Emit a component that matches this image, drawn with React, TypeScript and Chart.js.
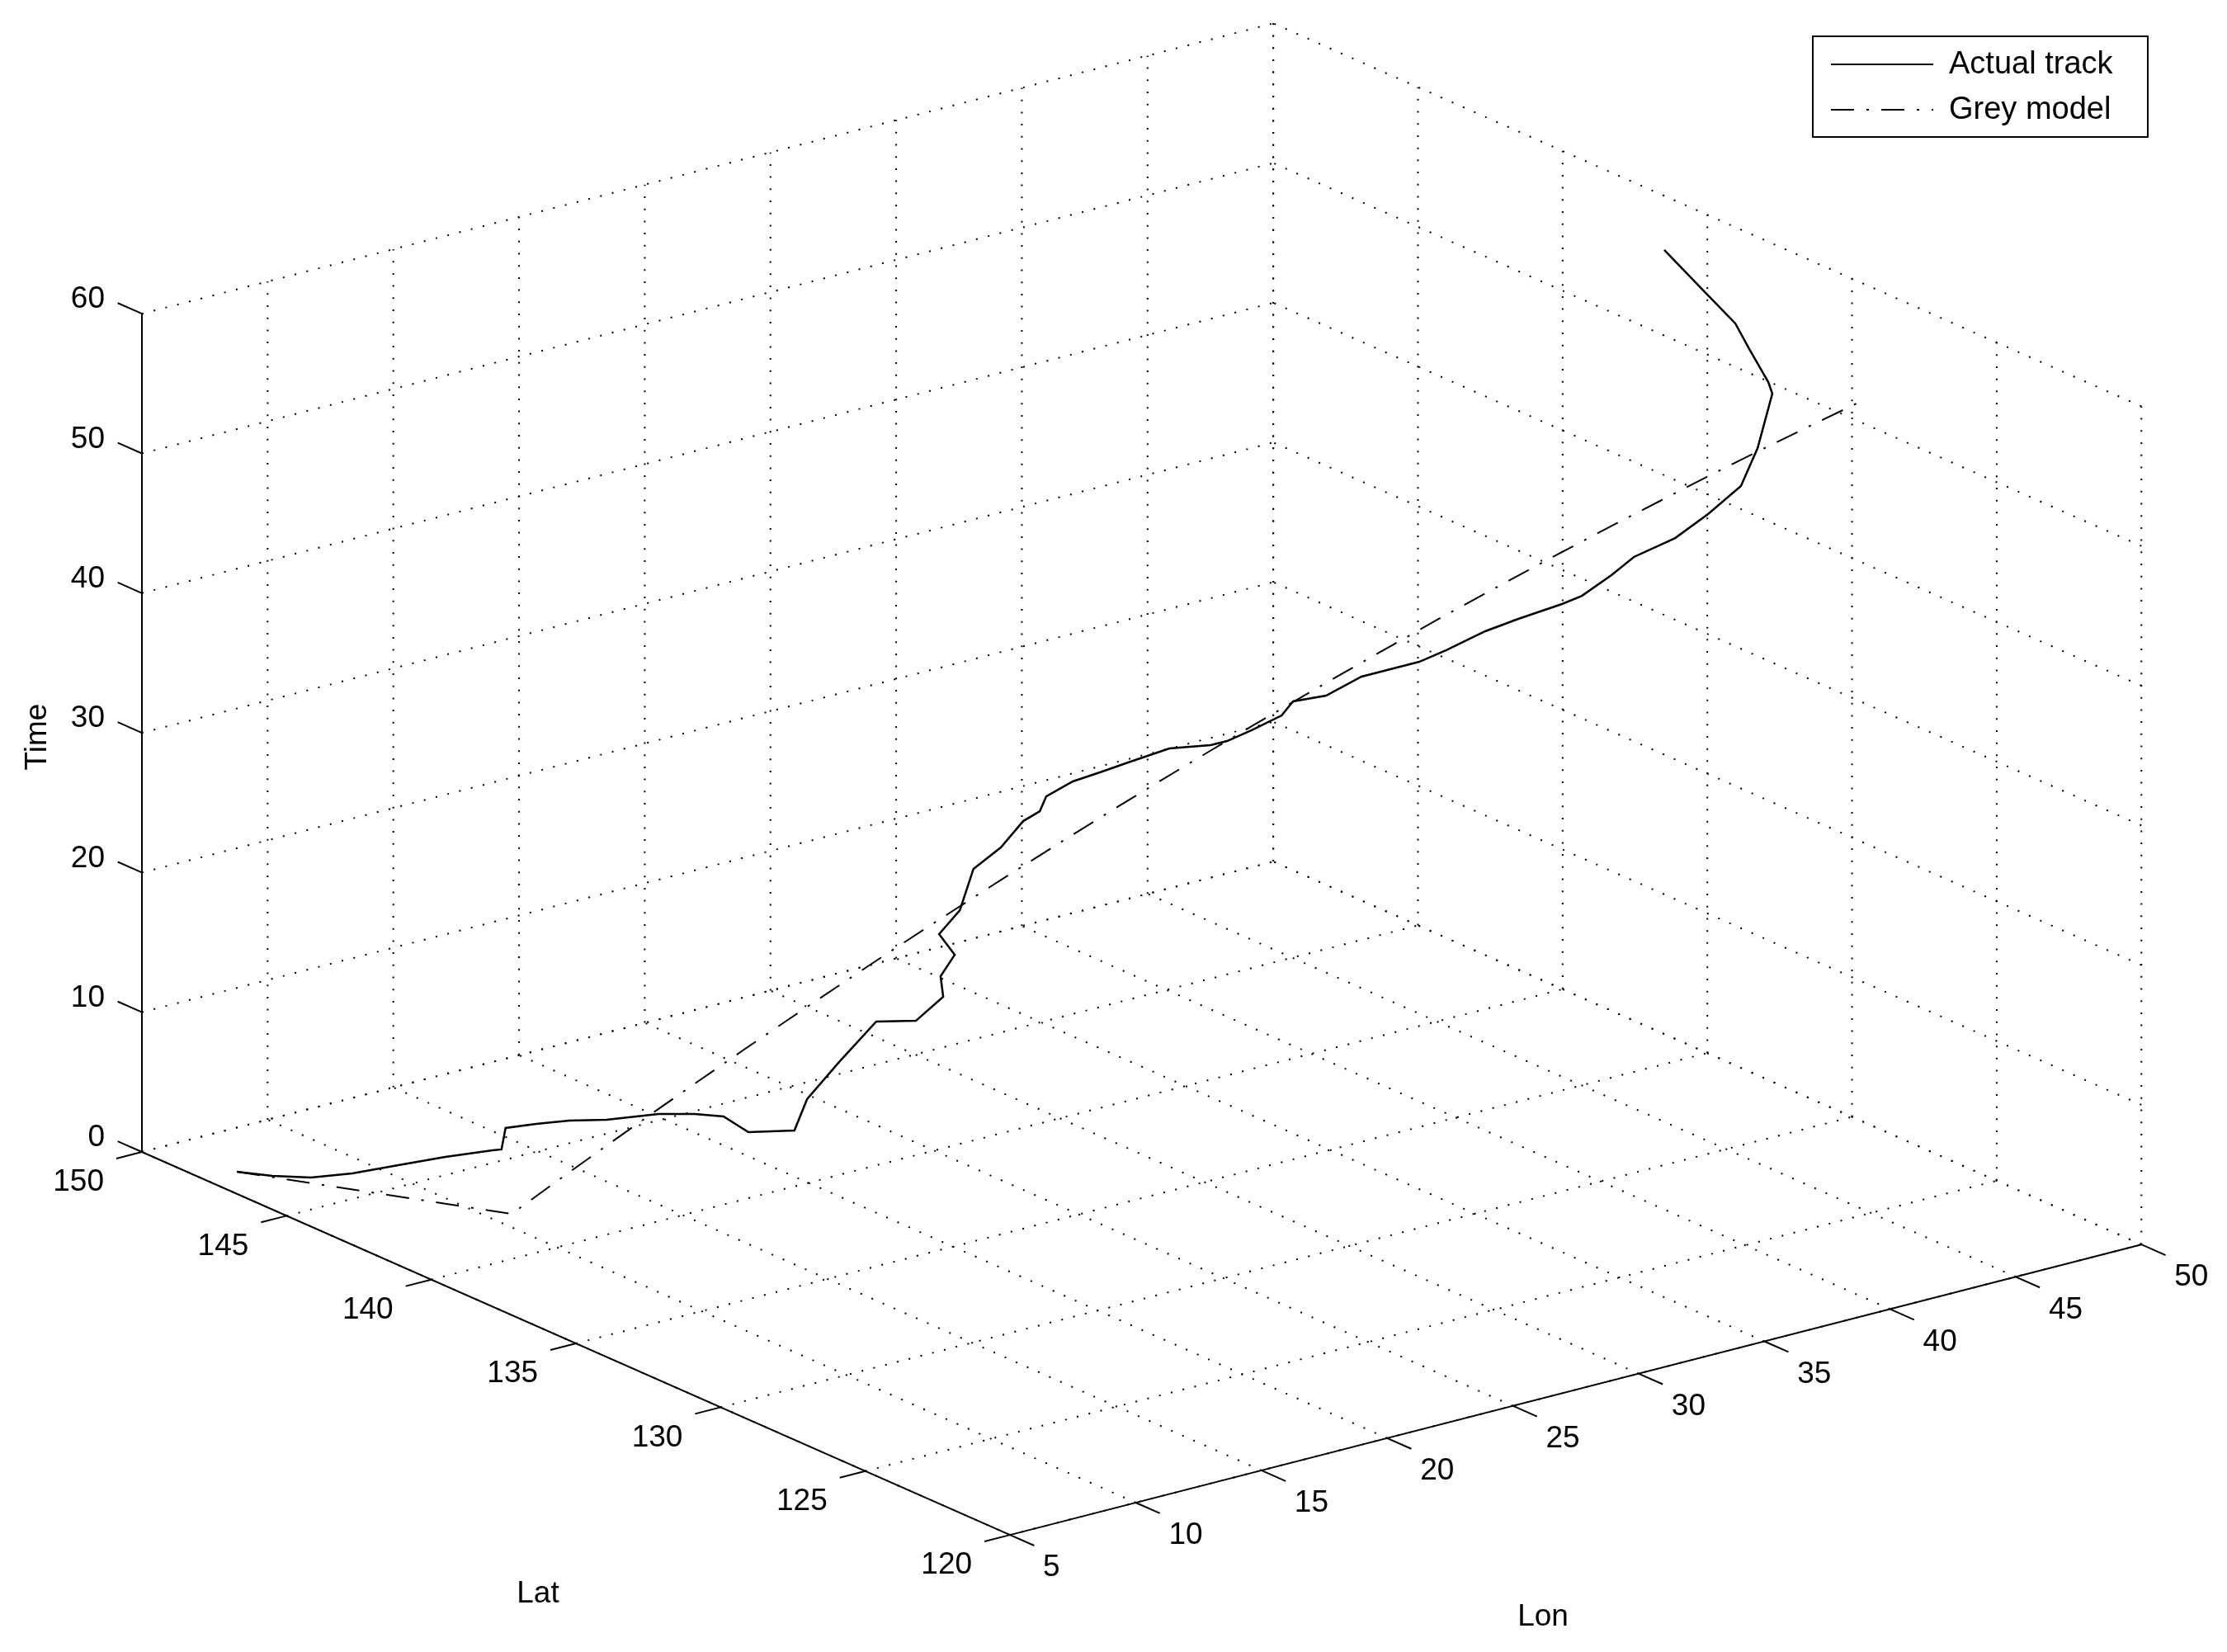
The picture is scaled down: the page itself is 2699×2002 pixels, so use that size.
import React, { useEffect, useRef } from "react";
import { Chart, registerables } from "chart.js";

Chart.register(...registerables);

// ---------------- data ----------------
const LAT_TICKS = [120, 125, 130, 135, 140, 145, 150];
const LON_TICKS = [5, 10, 15, 20, 25, 30, 35, 40, 45, 50];
const TIME_TICKS = [0, 10, 20, 30, 40, 50, 60];

const SERIES_ACTUAL = "Actual track";
const SERIES_GREY = "Grey model";
const TITLE_LAT = "Lat";
const TITLE_LON = "Lon";
const TITLE_TIME = "Time";

const TIME_ACTUAL = [
  0, 1, 2, 3, 4, 5, 6, 7, 8, 9, 10, 11, 12, 13, 14, 15, 16, 17, 18, 19,
  20, 21, 22, 23, 24, 25, 26, 27, 28, 29, 30, 31, 32, 33, 34, 35, 36, 37, 38, 39,
  40, 41, 42, 43, 44, 45, 46, 47, 48, 49, 50, 51, 52, 53, 54, 55, 56, 57, 58, 59,
];
const LAT_ACTUAL = [
  147.81, 146.47, 145.2, 144.19, 143.32, 142.44, 141.47, 140.71, 141.03, 140.15,
  139.2, 138.08, 137.01, 135.86, 134.68, 132.89, 131.7, 132.4, 133.14, 133.98,
  132.82, 132.97, 133.33, 133.52, 134.05, 134.28, 135.46, 135.48, 135.81, 135.4,
  135.36, 135.07, 134.48, 133.92, 133.4, 132.35, 131.65, 131.18, 130.84, 130.7,
  129.87, 129.67, 128.98, 128.52, 128.27, 127.77, 127.26, 126.72, 126.68, 126.6,
  126.32, 126.4, 126.68, 127.65, 129.47, 129.4, 130.59, 131.34, 132.54, 134.5,
];
const LON_ACTUAL = [
  6.26, 6.12, 6.2, 6.68, 7.51, 8.37, 9.13, 8.61, 9.14, 9.35,
  9.57, 9.76, 10.6, 10.71, 10.5, 9.43, 9.89, 11.2, 13.33, 15.77,
  16.01, 17.27, 17.58, 18.36, 18.35, 19.44, 21.34, 22.45, 23.72, 23.91,
  24.12, 24.84, 25.24, 25.72, 26.76, 27.19, 27.04, 27.48, 28.28, 28.57,
  28.93, 30.11, 31.61, 32.16, 33.42, 34.16, 35.31, 35.48, 36.61, 37.41,
  38.73, 40.13, 41.76, 43.54, 46.22, 45.98, 46.59, 46.9, 47.1, 47.71,
];

const TIME_GREY = [
  0, 1, 3, 5, 7, 9, 11, 13, 15, 17, 19, 21, 23, 25, 27, 29,
  31, 33, 35, 37, 39, 41, 43, 45, 47, 49, 51, 53, 55, 57, 59,
];
const LAT_GREY = [
  147.81, 141.54, 141.23, 140.9, 140.55, 140.18, 139.79, 139.38, 138.95, 138.5,
  138.03, 137.54, 137.03, 136.5, 135.95, 135.38, 134.79, 134.18, 133.55, 132.9,
  132.23, 131.55, 130.84, 130.11, 129.36, 128.59, 127.8, 127.0, 126.17, 125.32, 124.45,
];
const LON_GREY = [
  6.26, 9.97, 11.46, 12.92, 14.36, 15.78, 17.17, 18.55, 19.9, 21.22,
  22.53, 23.81, 25.07, 26.3, 27.51, 28.7, 29.87, 31.01, 32.13, 33.23,
  34.3, 35.35, 36.39, 37.39, 38.37, 39.33, 40.27, 41.19, 42.08, 42.95, 43.79,
];

// ---------------- layout / view ----------------
const W = 2699;
const H = 2002;
const ORIGIN_X = 172; // screen position of (lat max, lon min, time min)
const ORIGIN_Y = 1396;
const LAT_DX = 35.07; // screen shift per degree below lat max
const LAT_DY = 15.47;
const LON_DX = 30.47; // screen shift per degree above lon min
const LON_DY = -7.82;
const TIME_DY = -16.93; // screen shift per time unit
const TICK_LEN = 32;
const FONT = '"Liberation Sans", Arial, sans-serif';

const LAT_MIN = LAT_TICKS[0];
const LAT_MAX = LAT_TICKS[LAT_TICKS.length - 1];
const LON_MIN = LON_TICKS[0];
const LON_MAX = LON_TICKS[LON_TICKS.length - 1];
const T_MIN = TIME_TICKS[0];
const T_MAX = TIME_TICKS[TIME_TICKS.length - 1];

function project(lat: number, lon: number, t: number) {
  const a = LAT_MAX - lat;
  const b = lon - LON_MIN;
  const c = t - T_MIN;
  return {
    x: ORIGIN_X + a * LAT_DX + b * LON_DX,
    y: ORIGIN_Y + a * LAT_DY + b * LON_DY + c * TIME_DY,
  };
}

const box3dPlugin = {
  id: "box3d",
  beforeDatasetsDraw(chart: any) {
    const ctx: CanvasRenderingContext2D = chart.ctx;
    const sx = chart.scales.x;
    const sy = chart.scales.y;
    const P = (lat: number, lon: number, t: number): [number, number] => {
      const p = project(lat, lon, t);
      return [sx.getPixelForValue(p.x), sy.getPixelForValue(p.y)];
    };
    const seg = (a: [number, number], b: [number, number]) => {
      ctx.beginPath();
      ctx.moveTo(a[0], a[1]);
      ctx.lineTo(b[0], b[1]);
      ctx.stroke();
    };
    ctx.save();
    // dotted grid
    ctx.strokeStyle = "#000";
    ctx.lineWidth = 2;
    ctx.lineCap = "butt";
    ctx.setLineDash([2, 12.7]);
    LAT_TICKS.forEach((lat) => seg(P(lat, LON_MIN, T_MIN), P(lat, LON_MAX, T_MIN)));
    LON_TICKS.forEach((lon) => seg(P(LAT_MIN, lon, T_MIN), P(LAT_MAX, lon, T_MIN)));
    LON_TICKS.forEach((lon) => seg(P(LAT_MAX, lon, T_MIN), P(LAT_MAX, lon, T_MAX)));
    TIME_TICKS.forEach((t) => seg(P(LAT_MAX, LON_MIN, t), P(LAT_MAX, LON_MAX, t)));
    LAT_TICKS.forEach((lat) => seg(P(lat, LON_MAX, T_MIN), P(lat, LON_MAX, T_MAX)));
    TIME_TICKS.forEach((t) => seg(P(LAT_MIN, LON_MAX, t), P(LAT_MAX, LON_MAX, t)));
    ctx.setLineDash([]);

    // solid axes
    ctx.lineWidth = 2;
    seg(P(LAT_MAX, LON_MIN, T_MIN), P(LAT_MAX, LON_MIN, T_MAX));
    seg(P(LAT_MAX, LON_MIN, T_MIN), P(LAT_MIN, LON_MIN, T_MIN));
    seg(P(LAT_MIN, LON_MIN, T_MIN), P(LAT_MIN, LON_MAX, T_MIN));

    const nl = Math.hypot(LAT_DX, LAT_DY);
    const latU = [LAT_DX / nl, LAT_DY / nl];
    const no = Math.hypot(LON_DX, LON_DY);
    const lonU = [LON_DX / no, LON_DY / no];

    ctx.fillStyle = "#000";
    ctx.font = `37px ${FONT}`;
    ctx.textBaseline = "middle";

    // time ticks + labels
    ctx.textAlign = "right";
    TIME_TICKS.forEach((t) => {
      const p = P(LAT_MAX, LON_MIN, t);
      seg(p, [p[0] - latU[0] * TICK_LEN, p[1] - latU[1] * TICK_LEN]);
      ctx.fillText(String(t), p[0] - 45, p[1] - 17);
    });
    // lat ticks + labels
    LAT_TICKS.forEach((lat) => {
      const p = P(lat, LON_MIN, T_MIN);
      seg(p, [p[0] - lonU[0] * TICK_LEN, p[1] - lonU[1] * TICK_LEN]);
      ctx.fillText(String(lat), p[0] - 46, p[1] + 37);
    });
    // lon ticks + labels
    ctx.textAlign = "left";
    LON_TICKS.forEach((lon) => {
      const p = P(LAT_MIN, lon, T_MIN);
      seg(p, [p[0] + latU[0] * TICK_LEN, p[1] + latU[1] * TICK_LEN]);
      ctx.fillText(String(lon), p[0] + 40, p[1] + 40);
    });

    // axis titles
    ctx.textAlign = "center";
    ctx.fillText(TITLE_LAT, 652, 1932);
    ctx.fillText(TITLE_LON, 1870, 1960);
    ctx.save();
    ctx.translate(46, 893);
    ctx.rotate(-Math.PI / 2);
    ctx.fillText(TITLE_TIME, 0, 0);
    ctx.restore();
    ctx.restore();
  },
  afterDraw(chart: any) {
    const ctx: CanvasRenderingContext2D = chart.ctx;
    ctx.save();
    ctx.fillStyle = "#fff";
    ctx.fillRect(2197, 44, 406, 122);
    ctx.strokeStyle = "#000";
    ctx.lineWidth = 2;
    ctx.strokeRect(2197, 44, 406, 122);
    ctx.lineWidth = 2;
    ctx.beginPath();
    ctx.moveTo(2219, 78);
    ctx.lineTo(2343, 78);
    ctx.stroke();
    ctx.setLineDash([28, 15, 3, 15]);
    ctx.beginPath();
    ctx.moveTo(2219, 133);
    ctx.lineTo(2343, 133);
    ctx.stroke();
    ctx.setLineDash([]);
    ctx.fillStyle = "#000";
    ctx.font = `38px ${FONT}`;
    ctx.textAlign = "left";
    ctx.textBaseline = "middle";
    ctx.fillText(SERIES_ACTUAL, 2362, 79);
    ctx.fillText(SERIES_GREY, 2362, 134);
    ctx.restore();
  },
};

export default function App() {
  const ref = useRef<HTMLCanvasElement | null>(null);
  useEffect(() => {
    if (!ref.current) return;
    const actual = TIME_ACTUAL.map((t, i) => project(LAT_ACTUAL[i], LON_ACTUAL[i], t));
    const grey = TIME_GREY.map((t, i) => project(LAT_GREY[i], LON_GREY[i], t));
    const chart = new Chart(ref.current, {
      type: "scatter",
      data: {
        datasets: [
          {
            label: SERIES_ACTUAL,
            data: actual,
            showLine: true,
            borderColor: "#000",
            borderWidth: 2.5,
            pointRadius: 0,
            tension: 0,
            fill: false,
          },
          {
            label: SERIES_GREY,
            data: grey,
            showLine: true,
            borderColor: "#000",
            borderWidth: 2,
            borderDash: [28, 15, 3, 15],
            pointRadius: 0,
            tension: 0,
            fill: false,
          },
        ],
      },
      options: {
        animation: false,
        responsive: false,
        devicePixelRatio: 1,
        events: [],
        layout: { padding: 0, autoPadding: false },
        plugins: {
          legend: { display: false },
          tooltip: { enabled: false },
          title: { display: false },
        },
        scales: {
          x: { type: "linear", min: 0, max: W, display: false },
          y: { type: "linear", min: 0, max: H, reverse: true, display: false },
        },
      } as any,
      plugins: [box3dPlugin],
    });
    return () => chart.destroy();
  }, []);
  return (
    <div style={{ position: "fixed", left: 0, top: 0, width: W, height: H, background: "#fff" }}>
      <canvas ref={ref} width={W} height={H} style={{ display: "block", width: W, height: H }} />
    </div>
  );
}
